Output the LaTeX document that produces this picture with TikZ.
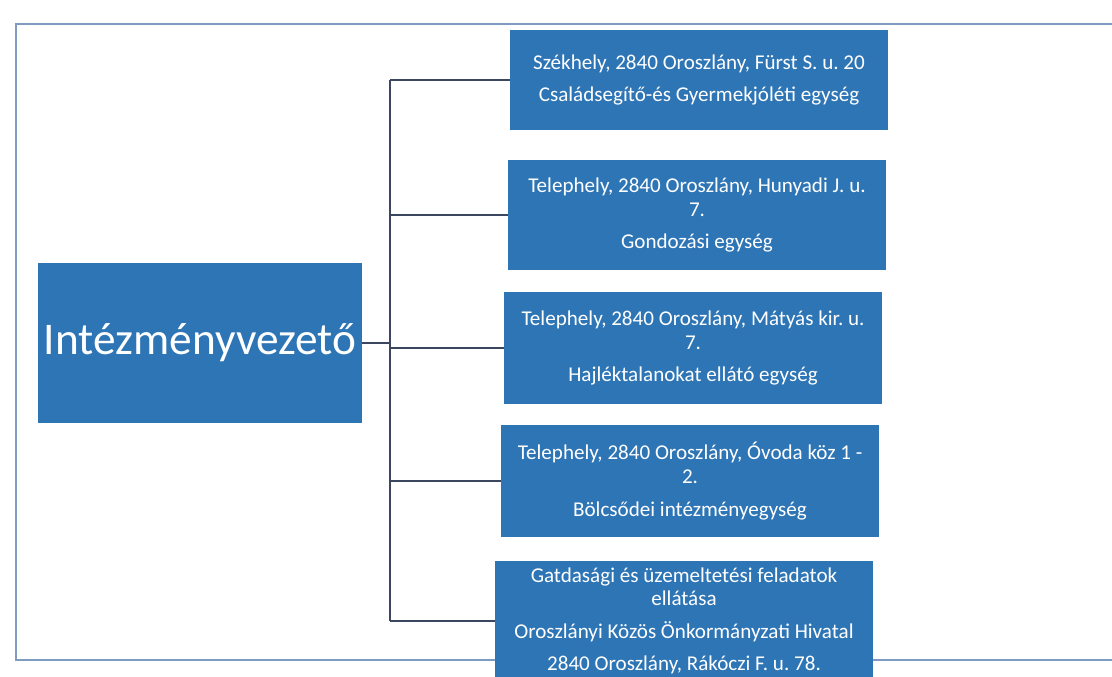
\documentclass[tikz,border=0pt]{standalone}
\usepackage{fontspec}
\setmainfont{Carlito}
\usetikzlibrary{positioning}
\definecolor{unitblue}{HTML}{2E75B6}
\definecolor{linkgray}{HTML}{3B4660}
\definecolor{framegray}{HTML}{7F9CC0}
\tikzset{
  unit/.style={fill=unitblue,text=white,align=center,inner sep=2pt,
    minimum width=7.56cm,font=\fontsize{12}{13.5}\selectfont\frenchspacing},
  head/.style={fill=unitblue,text=white,minimum width=6.48cm,minimum height=3.2cm,
    font=\fontsize{25.8}{30}\selectfont},
  link/.style={draw=linkgray,line width=0.8pt}
}

\begin{document}
\begin{tikzpicture}[x=0.02cm,y=-0.02cm]
\useasboundingbox (0,0) rectangle (1112,676);
\draw[framegray,line width=0.7pt] (1112,24) -- (16,24) -- (16,660) -- (1112,660);
\node[head] (root) at (200,343) {Intézményvezető};
\node[unit,minimum height=2.0cm] (seat) at (699,80)
  {Székhely, 2840 Oroszlány, Fürst S. u. 20\\[5pt]
   Családsegítő-és Gyermekjóléti egység};
\node[unit,minimum height=2.2cm] (care) at (697,215)
  {Telephely, 2840 Oroszlány, Hunyadi J. u.\\ 7.\\[5pt] Gondozási egység};
\node[unit,minimum height=2.24cm] (shelter) at (693,348)
  {Telephely, 2840 Oroszlány, Mátyás kir. u.\\ 7.\\[5pt] Hajléktalanokat ellátó egység};
\node[unit,minimum height=2.24cm] (nursery) at (690,481)
  {Telephely, 2840 Oroszlány, Óvoda köz 1 -\\ 2.\\[5pt] Bölcsődei intézményegység};
\node[unit,minimum height=2.4cm] (office) at (684,621)
  {Gatdasági és üzemeltetési feladatok\\ ellátása\\[5pt]
   Oroszlányi Közös Önkormányzati Hivatal\\[5pt]
   2840 Oroszlány, Rákóczi F. u. 78.};
% trunk
\coordinate (trunk) at (390,343);
\draw[link] (root.east) -- (trunk);
\draw[link] (seat.west -| trunk) -- (office.west -| trunk);
\foreach \u in {seat,care,shelter,nursery,office}
  \draw[link] (\u.west -| trunk) -- (\u.west);
\end{tikzpicture}
\end{document}
